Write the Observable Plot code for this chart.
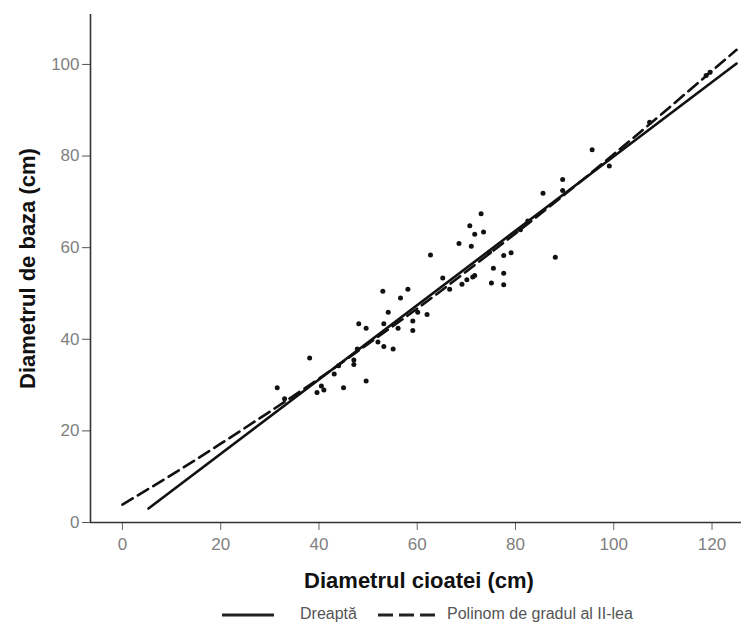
<!DOCTYPE html>
<html><head><meta charset="utf-8">
<script src="https://cdn.jsdelivr.net/npm/d3@7"></script>
<script src="https://cdn.jsdelivr.net/npm/@observablehq/plot@0.6"></script>
<style>
body{margin:0;background:#fff;font-family:"Liberation Sans",Arial,sans-serif}
#chart svg{display:block}
</style>
</head><body><div id="chart"></div><div id="legend"></div>
<script>
// Scatter data: stump diameter (x) vs base diameter (y), cm
const stumpDiam = [31.5,33.0,38.1,39.6,40.5,41.0,43.1,44.0,45.0,47.1,47.1,47.8,49.6,48.1,49.6,52.0,53.2,55.1,53.2,53.0,54.1,56.1,56.6,58.1,59.1,59.1,60.1,62.0,62.7,65.2,66.6,68.5,69.1,70.1,70.7,71.0,71.3,71.7,71.7,73.0,73.5,74.7,75.1,75.5,77.6,77.6,77.6,79.1,81.0,82.5,85.6,88.1,89.6,89.6,95.6,99.1,107.3,118.8,119.6];
const baseDiam  = [29.4,27.0,35.9,28.4,29.8,28.9,32.4,34.2,29.4,35.5,34.5,37.9,30.9,43.4,42.4,39.4,38.4,37.9,43.4,50.5,45.9,42.4,49.0,50.9,44.0,41.9,45.9,45.4,58.4,53.4,50.9,60.9,52.0,53.0,64.8,60.3,53.6,53.9,62.9,67.4,63.4,59.0,52.3,55.5,58.3,54.4,51.9,58.9,63.9,65.8,71.9,57.9,74.9,72.5,81.4,77.8,87.4,97.6,98.3];
// Fitted straight line
const lineX = [5.3, 125.0];
const lineY = [3.06, 100.2];
// Fitted 2nd-degree polynomial curve
const polyX = [0, 10, 20, 30, 40, 50, 60, 70, 80, 90, 100, 110, 125];
const polyY = [3.9, 10.4, 17.2, 24.2, 31.4, 39.0, 46.7, 54.8, 63.1, 71.6, 80.4, 89.4, 103.2];
const xTicks = [0, 20, 40, 60, 80, 100, 120];
const yTicks = [0, 20, 40, 60, 80, 100];
const seriesNames = ["Dreaptă", "Polinom de gradul al II-lea"];
const xTitle = "Diametrul cioatei (cm)";
const yTitle = "Diametrul de baza (cm)";

const points = stumpDiam.map((x, i) => ({x, y: baseDiam[i]}));
const linePts = lineX.map((x, i) => ({x, y: lineY[i]}));
const polyPts = polyX.map((x, i) => ({x, y: polyY[i]}));

const xMin = -6.5, xMax = 126, yMax = 110.9;

const plot = Plot.plot({
  width: 741,
  height: 600,
  marginLeft: 90,
  marginRight: 0,
  marginTop: 14,
  marginBottom: 78,
  style: {fontFamily: "Liberation Sans, Arial, sans-serif", fontSize: "17px", background: "#fff", color: "#7f7f7f"},
  x: {domain: [xMin, xMax]},
  y: {domain: [0, yMax]},
  marks: [
    Plot.axisX({ticks: xTicks, tickSize: 8, tickPadding: 7, label: null, tickFormat: d => String(d), stroke: "#666", fill: "#7f7f7f"}),
    Plot.axisY({ticks: yTicks, tickSize: 8, tickPadding: 3, label: null, tickFormat: d => String(d), stroke: "#555", fill: "#7f7f7f"}),
    Plot.ruleX([xMin], {y1: 0, y2: yMax, stroke: "#333", strokeWidth: 1.6}),
    Plot.ruleY([0], {x1: xMin, x2: xMax, stroke: "#333", strokeWidth: 1.6}),
    Plot.line(linePts, {x: "x", y: "y", stroke: "#111", strokeWidth: 2.6}),
    Plot.line(polyPts, {x: "x", y: "y", curve: "natural", stroke: "#111", strokeWidth: 2.6, strokeDasharray: "12,6"}),
    Plot.dot(points, {x: "x", y: "y", r: 2.5, fill: "#111", stroke: "none"}),
    Plot.text([xTitle], {frameAnchor: "bottom", dy: 58, dx: 3, textAnchor: "middle", lineAnchor: "middle", fontSize: 22, fontWeight: "bold", fill: "#111"}),
    Plot.text([yTitle], {frameAnchor: "left", dx: -63, dy: 0, rotate: -90, textAnchor: "middle", lineAnchor: "middle", fontSize: 22, fontWeight: "bold", fill: "#111"})
  ]
});
document.getElementById("chart").appendChild(plot);

// Legend below the chart
const leg = d3.select("#legend").append("svg").attr("width", 741).attr("height", 24);
leg.append("line").attr("x1", 222).attr("x2", 274).attr("y1", 15).attr("y2", 15)
  .attr("stroke", "#222").attr("stroke-width", 3);
leg.append("text").attr("x", 300).attr("y", 15).attr("dominant-baseline", "middle")
  .attr("font-size", 16).attr("fill", "#555").text(seriesNames[0]);
leg.append("line").attr("x1", 378).attr("x2", 436).attr("y1", 15).attr("y2", 15)
  .attr("stroke", "#222").attr("stroke-width", 3).attr("stroke-dasharray", "15,6");
leg.append("text").attr("x", 447).attr("y", 15).attr("dominant-baseline", "middle")
  .attr("font-size", 16).attr("fill", "#555").text(seriesNames[1]);
</script>
</body></html>
